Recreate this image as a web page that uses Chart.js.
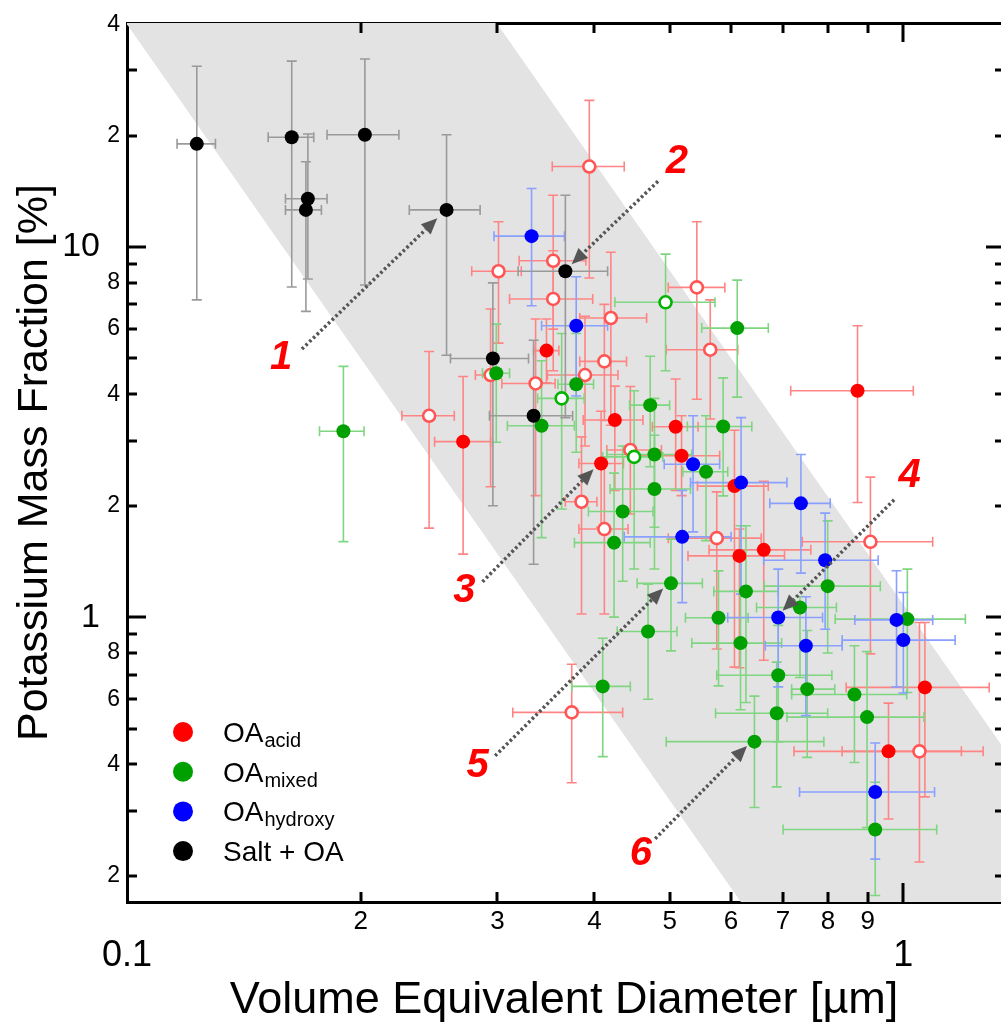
<!DOCTYPE html>
<html>
<head>
<meta charset="utf-8">
<title>Potassium mass fraction vs. volume equivalent diameter</title>
<script src="https://cdn.jsdelivr.net/npm/chart.js@4.4.1/dist/chart.umd.min.js"></script>
<style>
  html, body { margin: 0; padding: 0; background: #fff; overflow: hidden; }
  #wrap { width: 1001px; height: 1023px; }
</style>
</head>
<body>
<div id="wrap"><canvas id="kChart" width="1001" height="1023"></canvas></div>
<script>
const FONT = "'Liberation Sans', Arial, Helvetica, sans-serif";

// each row: [diameter, dLow, dHigh, K fraction, kLow, kHigh]
const acidFilled = [
  [0.347, 0.334, 0.360, 5.25, 4.3, 6.39],
  [0.271, 0.249, 0.294, 2.98, 1.48, 4.47],
  [0.425, 0.387, 0.462, 3.41, 2.2, 4.21],
  [0.509, 0.475, 0.544, 3.27, 2.2, 4.4],
  [0.518, 0.454, 0.580, 2.73, 2.13, 3.5],
  [0.408, 0.382, 0.436, 2.60, 1.75, 3.6],
  [0.606, 0.543, 0.670, 2.26, 0.733, 3.2],
  [0.615, 0.528, 0.703, 1.464, 0.73, 1.73],
  [0.661, 0.562, 0.760, 1.52, 0.765, 2.33],
  [0.873, 0.716, 1.030, 4.09, 2.04, 6.13],
  [0.957, 0.723, 1.188, 0.434, 0.285, 0.586],
  [1.066, 0.844, 1.290, 0.646, 0.327, 0.967]
];
const acidOpen = [
  [0.394, 0.353, 0.437, 16.5, 8.25, 24.9],
  [0.354, 0.320, 0.390, 9.18, 6.0, 13.8],
  [0.354, 0.311, 0.398, 7.24, 4.63, 9.77],
  [0.301, 0.278, 0.322, 8.60, 5.5, 11.7],
  [0.542, 0.498, 0.589, 7.78, 3.88, 11.7],
  [0.420, 0.383, 0.467, 6.43, 3.3, 9.68],
  [0.412, 0.383, 0.440, 4.91, 3.4, 7.0],
  [0.389, 0.348, 0.429, 4.51, 2.9, 6.5],
  [0.294, 0.281, 0.2955, 4.51, 2.25, 6.80],
  [0.336, 0.304, 0.356, 4.28, 2.13, 6.39],
  [0.245, 0.226, 0.264, 3.50, 1.74, 5.22],
  [0.445, 0.415, 0.488, 2.83, 1.9, 4.2],
  [0.385, 0.367, 0.403, 2.05, 1.02, 3.07],
  [0.412, 0.382, 0.442, 1.73, 1.02, 2.6],
  [0.575, 0.498, 0.656, 1.635, 0.82, 2.18],
  [0.564, 0.495, 0.612, 5.28, 3.43, 7.2],
  [0.907, 0.741, 1.091, 1.598, 0.796, 2.39],
  [0.374, 0.314, 0.435, 0.553, 0.357, 0.746],
  [1.049, 0.834, 1.267, 0.434, 0.218, 0.967]
];
const mixedFilled = [
  [0.299, 0.287, 0.311, 4.56, 2.97, 6.19],
  [0.379, 0.359, 0.399, 4.26, 2.79, 5.84],
  [0.342, 0.309, 0.377, 3.29, 1.64, 4.93],
  [0.472, 0.444, 0.500, 3.74, 2.55, 5.07],
  [0.478, 0.415, 0.534, 2.75, 1.75, 3.9],
  [0.557, 0.520, 0.594, 2.47, 1.61, 3.5],
  [0.478, 0.419, 0.532, 2.22, 1.35, 3.1],
  [0.435, 0.393, 0.476, 1.93, 1.25, 2.9],
  [0.424, 0.377, 0.472, 1.59, 1.0, 2.45],
  [0.502, 0.454, 0.551, 1.234, 0.811, 1.624],
  [0.469, 0.428, 0.511, 0.915, 0.60, 1.228],
  [0.410, 0.374, 0.445, 0.650, 0.42, 0.877],
  [0.578, 0.524, 0.631, 0.996, 0.652, 1.334],
  [0.617, 0.534, 0.697, 0.851, 0.562, 1.766],
  [0.736, 0.647, 0.820, 1.062, 0.687, 1.137],
  [0.799, 0.662, 0.934, 1.213, 0.80, 1.82],
  [0.690, 0.575, 0.809, 0.697, 0.46, 0.95],
  [0.752, 0.718, 0.816, 0.639, 0.418, 0.92],
  [0.687, 0.573, 0.799, 0.550, 0.348, 0.756],
  [0.865, 0.718, 1.010, 0.618, 0.405, 0.837],
  [0.627, 0.570, 0.690, 1.174, 0.588, 1.766],
  [1.012, 0.817, 1.202, 0.988, 0.626, 1.348],
  [0.898, 0.708, 1.063, 0.537, 0.27, 0.807],
  [0.643, 0.495, 0.790, 0.461, 0.306, 0.612],
  [0.920, 0.700, 1.104, 0.267, 0.177, 0.358],
  [0.190, 0.177, 0.202, 3.18, 1.60, 4.76],
  [0.611, 0.550, 0.670, 6.04, 3.93, 8.14],
  [0.586, 0.527, 0.638, 3.275, 2.127, 4.43]
];
const mixedOpen = [
  [0.494, 0.425, 0.572, 7.09, 4.63, 9.57],
  [0.363, 0.338, 0.388, 3.90, 1.96, 5.84],
  [0.450, 0.410, 0.490, 2.71, 1.35, 4.09]
];
const hydroxy = [
  [0.332, 0.297, 0.366, 10.7, 6.94, 14.4],
  [0.379, 0.342, 0.416, 6.13, 3.96, 8.31],
  [0.536, 0.492, 0.580, 2.59, 1.70, 3.50],
  [0.519, 0.437, 0.600, 1.648, 1.095, 2.20],
  [0.618, 0.532, 0.708, 2.31, 1.154, 3.46],
  [0.738, 0.673, 0.805, 2.03, 1.315, 2.75],
  [0.793, 0.661, 0.928, 1.425, 0.928, 1.91],
  [0.690, 0.594, 0.787, 0.998, 0.648, 1.348],
  [0.749, 0.664, 0.834, 0.837, 0.542, 1.135],
  [0.980, 0.866, 1.091, 0.983, 0.648, 1.335],
  [1.000, 0.834, 1.166, 0.867, 0.624, 1.166],
  [0.920, 0.735, 1.097, 0.337, 0.222, 0.457]
];
const saltOA = [
  [0.123, 0.116, 0.130, 19.0, 7.2, 30.8],
  [0.163, 0.152, 0.174, 19.8, 7.8, 31.8],
  [0.171, 0.160, 0.181, 13.5, 8.2, 20.2],
  [0.170, 0.160, 0.178, 12.6, 6.7, 17.0],
  [0.2025, 0.181, 0.224, 20.1, 7.9, 32.2],
  [0.258, 0.231, 0.285, 12.6, 5.1, 20.1],
  [0.296, 0.261, 0.329, 5.0, 2.0, 8.0],
  [0.334, 0.293, 0.375, 3.5, 1.39, 5.6],
  [0.367, 0.319, 0.416, 8.6, 3.46, 13.8]
];

// shaded band edges (straight lines on log-log axes)
const bandUpper = [[0.1, 1080], [1.4, 0.394]];
const bandLower = [[0.1, 40], [1.4, 0.0146]];

const X_MIN = 0.1, X_MAX = 1.336;
const Y_MIN = 0.17, Y_MAX = 40.3;

const xMinorTicks = [0.2, 0.3, 0.4, 0.5, 0.6, 0.7, 0.8, 0.9];
const xMinorLabels = ['2', '3', '4', '5', '6', '7', '8', '9'];
const xMajorTicks = [0.1, 1];
const xMajorLabels = ['0.1', '1'];
const yMinorTicks = [0.2, 0.4, 0.6, 0.8, 2, 4, 6, 8, 20, 40];
const yMinorLabels = ['2', '4', '6', '8', '2', '4', '6', '8', '2', '4'];
const yMajorTicks = [1, 10];
const yMajorLabels = ['1', '10'];
const yMinorMarks = [0.2, 0.3, 0.4, 0.5, 0.6, 0.7, 0.8, 0.9, 2, 3, 4, 5, 6, 7, 8, 9, 20, 30];

// numbered callouts: label position, arrow start, arrow tip
const calloutLabels = ['1', '2', '3', '4', '5', '6'];
const calloutText = [[0.158, 5.01], [0.511, 17.0], [0.272, 1.18], [1.019, 2.40], [0.283, 0.397], [0.459, 0.229]];
const calloutFrom = [[0.168, 5.30], [0.483, 15.05], [0.287, 1.246], [0.973, 2.075], [0.298, 0.422], [0.479, 0.252]];
const calloutTo = [[0.251, 11.96], [0.374, 8.99], [0.399, 2.51], [0.699, 1.04], [0.4905, 1.196], [0.629, 0.449]];

const legendItems = [
  { main: 'OA', sub: 'acid', color: '#ff0000' },
  { main: 'OA', sub: 'mixed', color: '#00a000' },
  { main: 'OA', sub: 'hydroxy', color: '#0000ff' },
  { main: 'Salt + OA', sub: '', color: '#000000' }
];

function toPoints(rows) {
  return rows.map(r => ({ x: r[0], xMin: r[1], xMax: r[2], y: r[3], yMin: r[4], yMax: r[5] }));
}

function markerSet(label, rows, fill, stroke, errColor, open, order) {
  return {
    label, data: toPoints(rows), order, errorColor: errColor,
    pointRadius: open ? 6 : 7, pointHoverRadius: open ? 6 : 7,
    pointBackgroundColor: fill, pointBorderColor: stroke,
    pointBorderWidth: open ? 2.6 : 0, showLine: false
  };
}

const errorBarPlugin = {
  id: 'errorBars',
  afterDatasetDraw(chart, args) {
    if (args.index !== 0) return;
    const { ctx, chartArea: a, scales: { x, y } } = chart;
    const cap = 5;
    ctx.save();
    ctx.beginPath();
    ctx.rect(a.left, a.top, a.right - a.left, a.bottom - a.top);
    ctx.clip();
    ctx.lineWidth = 1.6;
    const metas = chart.getSortedVisibleDatasetMetas().slice().reverse();
    metas.forEach(meta => {
      const ds = chart.data.datasets[meta.index];
      if (!ds.errorColor) return;
      ctx.strokeStyle = ds.errorColor;
      ds.data.forEach(p => {
        const px = x.getPixelForValue(p.x), py = y.getPixelForValue(p.y);
        const x0 = x.getPixelForValue(p.xMin), x1 = x.getPixelForValue(p.xMax);
        const y0 = y.getPixelForValue(p.yMin), y1 = y.getPixelForValue(p.yMax);
        ctx.beginPath();
        ctx.moveTo(x0, py); ctx.lineTo(x1, py);
        ctx.moveTo(x0, py - cap); ctx.lineTo(x0, py + cap);
        ctx.moveTo(x1, py - cap); ctx.lineTo(x1, py + cap);
        ctx.moveTo(px, y0); ctx.lineTo(px, y1);
        ctx.moveTo(px - cap, y0); ctx.lineTo(px + cap, y0);
        ctx.moveTo(px - cap, y1); ctx.lineTo(px + cap, y1);
        ctx.stroke();
      });
    });
    ctx.restore();
  }
};

// ticks point inward on all four sides
const tickMarkPlugin = {
  id: 'inwardTicks',
  afterDraw(chart) {
    const { ctx, chartArea: a, scales: { x, y } } = chart;
    ctx.save();
    ctx.strokeStyle = '#000';
    ctx.lineWidth = 3;
    ctx.beginPath();
    const xMarks = (vals, len) => vals.forEach(v => {
      const px = Math.round(x.getPixelForValue(v));
      ctx.moveTo(px, a.bottom); ctx.lineTo(px, a.bottom - len);
      ctx.moveTo(px, a.top); ctx.lineTo(px, a.top + len);
    });
    const yMarks = (vals, len) => vals.forEach(v => {
      const py = Math.round(y.getPixelForValue(v));
      ctx.moveTo(a.left, py); ctx.lineTo(a.left + len, py);
      ctx.moveTo(a.right + 4, py); ctx.lineTo(a.right + 4 - len, py);
    });
    xMarks(xMinorTicks, 10);
    xMarks([1], 19);
    yMarks(yMinorMarks, 10);
    yMarks([1, 10], 19);
    ctx.stroke();
    ctx.restore();
  }
};

const calloutPlugin = {
  id: 'callouts',
  afterDatasetsDraw(chart) {
    const { ctx, scales: { x, y } } = chart;
    ctx.save();
    calloutLabels.forEach((txt, i) => {
      const sx = x.getPixelForValue(calloutFrom[i][0]), sy = y.getPixelForValue(calloutFrom[i][1]);
      const tx = x.getPixelForValue(calloutTo[i][0]), ty = y.getPixelForValue(calloutTo[i][1]);
      const ang = Math.atan2(ty - sy, tx - sx);
      const head = 16, half = 7;
      const bx = tx - head * Math.cos(ang), by = ty - head * Math.sin(ang);
      ctx.strokeStyle = '#555';
      ctx.fillStyle = '#555';
      ctx.lineWidth = 3.5;
      ctx.setLineDash([2.6, 2.6]);
      ctx.beginPath();
      ctx.moveTo(sx, sy);
      ctx.lineTo(bx, by);
      ctx.stroke();
      ctx.setLineDash([]);
      ctx.beginPath();
      ctx.moveTo(tx, ty);
      ctx.lineTo(bx + half * Math.sin(ang), by - half * Math.cos(ang));
      ctx.lineTo(bx - half * Math.sin(ang), by + half * Math.cos(ang));
      ctx.closePath();
      ctx.fill();
      ctx.fillStyle = '#ff0000';
      ctx.font = 'italic bold 40px ' + FONT;
      ctx.textAlign = 'center';
      ctx.textBaseline = 'middle';
      ctx.fillText(txt, x.getPixelForValue(calloutText[i][0]), y.getPixelForValue(calloutText[i][1]));
    });
    ctx.restore();
  }
};

const legendPlugin = {
  id: 'groupLegend',
  afterDraw(chart) {
    const { ctx, chartArea: a } = chart;
    ctx.save();
    legendItems.forEach((item, i) => {
      const cx = a.left + 56, cy = a.bottom - 170 + i * 39.7;
      ctx.fillStyle = item.color;
      ctx.beginPath();
      ctx.arc(cx, cy, 10, 0, Math.PI * 2);
      ctx.fill();
      ctx.fillStyle = '#000';
      ctx.textAlign = 'left';
      ctx.textBaseline = 'alphabetic';
      ctx.font = '28px ' + FONT;
      ctx.fillText(item.main, cx + 40, cy + 10);
      if (item.sub) {
        const w = ctx.measureText(item.main).width;
        ctx.font = '20px ' + FONT;
        ctx.fillText(item.sub, cx + 40 + w + 1, cy + 15);
      }
    });
    ctx.restore();
  }
};

const logAxis = (extra) => Object.assign({
  type: 'logarithmic',
  grid: { display: false, drawTicks: false },
  border: { display: false }
}, extra);

new Chart(document.getElementById('kChart'), {
  type: 'scatter',
  data: {
    datasets: [
      {
        label: 'band', data: bandUpper.map(p => ({ x: p[0], y: p[1] })), order: 10,
        showLine: true, pointRadius: 0, borderWidth: 0, borderColor: 'rgba(0,0,0,0)',
        backgroundColor: '#e3e3e3', fill: '+1'
      },
      {
        label: 'band edge', data: bandLower.map(p => ({ x: p[0], y: p[1] })), order: 11,
        showLine: true, pointRadius: 0, borderWidth: 0, borderColor: 'rgba(0,0,0,0)', fill: false
      },
      markerSet('Salt + OA', saltOA, '#000000', '#000000', '#9a9a9a', false, 1),
      markerSet('OA hydroxy', hydroxy, '#0000ff', '#0000ff', '#8aa0ff', false, 2),
      markerSet('OA mixed (open)', mixedOpen, '#ffffff', '#00b400', '#80d680', true, 3),
      markerSet('OA mixed', mixedFilled, '#00a000', '#00a000', '#80d680', false, 4),
      markerSet('OA acid', acidFilled, '#ff0000', '#ff0000', '#ff8585', false, 5),
      markerSet('OA acid (open)', acidOpen, '#ffffff', '#ff5555', '#ff8585', true, 6)
    ]
  },
  options: {
    responsive: false,
    animation: false,
    layout: { padding: 0, autoPadding: false },
    plugins: { legend: { display: false }, tooltip: { enabled: false } },
    scales: {
      x: logAxis({
        position: 'bottom', min: X_MIN, max: X_MAX, weight: 0,
        border: { display: true, color: '#000', width: 3 },
        ticks: {
          autoSkip: false, maxRotation: 0, minRotation: 0, padding: 4, color: '#000',
          font: { family: FONT, size: 26 },
          callback: (v, i) => xMinorLabels[i]
        },
        afterBuildTicks: s => { s.ticks = xMinorTicks.map(v => ({ value: v })); },
        afterFit: s => { s.height = 32; }
      }),
      xMajor: logAxis({
        position: 'bottom', min: X_MIN, max: X_MAX, weight: 1,
        ticks: {
          autoSkip: false, maxRotation: 0, minRotation: 0, padding: 0, color: '#000',
          font: { family: FONT, size: 36 },
          callback: (v, i) => xMajorLabels[i]
        },
        title: {
          display: true, text: 'Volume Equivalent Diameter [µm]', color: '#000',
          font: { family: FONT, size: 45, lineHeight: 1 }, padding: { top: 0, bottom: 0 }
        },
        afterBuildTicks: s => { s.ticks = xMajorTicks.map(v => ({ value: v })); },
        afterFit: s => { s.height = 89; }
      }),
      xTop: logAxis({
        position: 'top', min: X_MIN, max: X_MAX,
        border: { display: true, color: '#000', width: 3 },
        ticks: { display: false },
        afterFit: s => { s.height = 23; }
      }),
      y: logAxis({
        position: 'left', min: Y_MIN, max: Y_MAX, weight: 0,
        border: { display: true, color: '#000', width: 3 },
        ticks: {
          autoSkip: false, padding: 7, color: '#000',
          font: { family: FONT, size: 23 },
          callback: (v, i) => yMinorLabels[i]
        },
        afterBuildTicks: s => { s.ticks = yMinorTicks.map(v => ({ value: v })); },
        afterFit: s => { s.width = 27; }
      }),
      yMajor: logAxis({
        position: 'left', min: Y_MIN, max: Y_MAX, weight: 1,
        ticks: {
          autoSkip: false, padding: 0, color: '#000',
          font: { family: FONT, size: 34 },
          callback: (v, i) => yMajorLabels[i]
        },
        title: {
          display: true, text: 'Potassium Mass Fraction [%]', color: '#000',
          font: { family: FONT, size: 43, lineHeight: 1 }, padding: { top: 14, bottom: 0 }
        },
        afterBuildTicks: s => { s.ticks = yMajorTicks.map(v => ({ value: v })); },
        afterFit: s => { s.width = 100; }
      })
    }
  },
  plugins: [errorBarPlugin, calloutPlugin, tickMarkPlugin, legendPlugin]
});
</script>
</body>
</html>
